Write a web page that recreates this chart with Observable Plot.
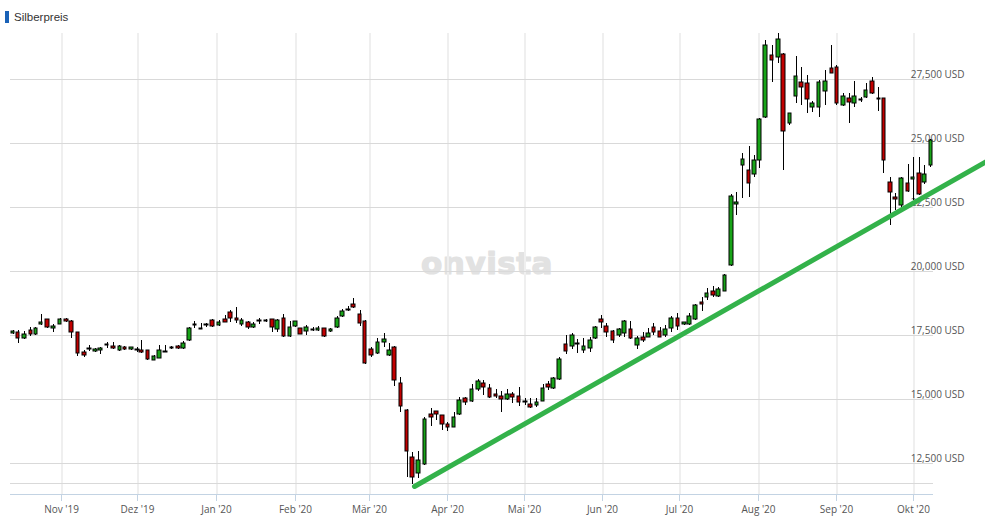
<!DOCTYPE html>
<html>
<head>
<meta charset="utf-8">
<script src="https://cdn.jsdelivr.net/npm/d3@7"></script>
<script src="https://cdn.jsdelivr.net/npm/@observablehq/plot@0.6"></script>
<style>
  html, body { margin: 0; padding: 0; background: #fff; }
  #wrap { position: relative; width: 985px; height: 518px; overflow: hidden; }
  #title { position: relative; height: 28px; }
  #title .bar { position: absolute; left: 5px; top: 11px; width: 4px; height: 12px; background: #1a62b7; }
  #title .txt { position: absolute; left: 14px; top: 12px; font: 11.5px/11px "Liberation Sans", Arial, sans-serif; color: #333; }
  svg { display: block; }
</style>
</head>
<body>
<div id="wrap">
  <div id="title"><span class="bar"></span><span class="txt">Silberpreis</span></div>
  <div id="chart"></div>
</div>
<script>
// ---- data ----
const dates = [
"2019-10-13","2019-10-15","2019-10-17T12:00Z","2019-10-20","2019-10-22","2019-10-24","2019-10-26T12:00Z","2019-10-29","2019-10-31T12:00Z",
"2019-11-03","2019-11-05","2019-11-07T12:00Z","2019-11-10","2019-11-12","2019-11-14T12:00Z","2019-11-16T12:00Z","2019-11-19","2019-11-21T12:00Z","2019-11-24","2019-11-26","2019-11-28T12:00Z",
"2019-12-01","2019-12-02T12:00Z","2019-12-05","2019-12-07T12:00Z","2019-12-09T12:00Z","2019-12-12","2019-12-14T12:00Z","2019-12-17","2019-12-19","2019-12-21T12:00Z","2019-12-23T12:00Z","2019-12-26","2019-12-28","2019-12-30T12:00Z",
"2020-01-02","2020-01-04T12:00Z","2020-01-06T12:00Z","2020-01-09","2020-01-11","2020-01-13T12:00Z","2020-01-15T12:00Z","2020-01-18","2020-01-20T12:00Z","2020-01-23","2020-01-25","2020-01-27T12:00Z","2020-01-30",
"2020-02-01","2020-02-03","2020-02-05T12:00Z","2020-02-08","2020-02-10","2020-02-12T12:00Z","2020-02-15","2020-02-17T12:00Z","2020-02-19T12:00Z","2020-02-22","2020-02-24","2020-02-26T12:00Z","2020-02-28T12:00Z",
"2020-03-02","2020-03-04T12:00Z","2020-03-07","2020-03-09","2020-03-11","2020-03-13T12:00Z","2020-03-16","2020-03-18","2020-03-20T12:00Z","2020-03-23","2020-03-25T12:00Z","2020-03-27T12:00Z","2020-03-30",
"2020-04-01","2020-04-03T12:00Z","2020-04-05T12:00Z","2020-04-08","2020-04-10T12:00Z","2020-04-13","2020-04-15","2020-04-17T12:00Z","2020-04-20","2020-04-22","2020-04-24T12:00Z","2020-04-26T12:00Z","2020-04-29",
"2020-05-01T12:00Z","2020-05-03T12:00Z","2020-05-06","2020-05-08T12:00Z","2020-05-10T12:00Z","2020-05-12T12:00Z","2020-05-15","2020-05-17T12:00Z","2020-05-20","2020-05-22","2020-05-24T12:00Z","2020-05-27","2020-05-29","2020-05-31T12:00Z",
"2020-06-02T12:00Z","2020-06-05","2020-06-07T12:00Z","2020-06-09T12:00Z","2020-06-12","2020-06-14T12:00Z","2020-06-17","2020-06-19","2020-06-21","2020-06-23T12:00Z","2020-06-25T12:00Z","2020-06-28","2020-06-30T12:00Z",
"2020-07-03","2020-07-05","2020-07-07T12:00Z","2020-07-10","2020-07-12","2020-07-14T12:00Z","2020-07-16T12:00Z","2020-07-19","2020-07-21T12:00Z","2020-07-23T12:00Z","2020-07-26","2020-07-28T12:00Z","2020-07-30T12:00Z",
"2020-08-01T12:00Z","2020-08-04","2020-08-06T12:00Z","2020-08-09","2020-08-11","2020-08-13T12:00Z","2020-08-16","2020-08-18","2020-08-20T12:00Z","2020-08-22T12:00Z","2020-08-25","2020-08-27T12:00Z","2020-08-30",
"2020-09-01","2020-09-03T12:00Z","2020-09-06","2020-09-08","2020-09-10T12:00Z","2020-09-12T12:00Z","2020-09-15","2020-09-17T12:00Z","2020-09-19T12:00Z","2020-09-22","2020-09-24","2020-09-26T12:00Z","2020-09-29",
"2020-10-01","2020-10-03T12:00Z","2020-10-05T12:00Z","2020-10-08"
];
const open = [
17578,17606,17371,17684,17527,17918,18113,17762,17930,
18125,18047,17606,16848,16953,16875,16902,17109,17070,16902,17031,16941,
16953,16914,16902,16535,16613,16848,16981,17070,16981,17293,17879,17785,17879,18074,
17879,18137,18387,18152,17918,17996,17801,18047,18035,18113,17723,18152,17473,
17840,17762,17668,17723,17684,17762,17645,17824,18254,18465,18711,18320,18035,
16941,16785,17227,16707,17020,15613,14570,12723,12098,12461,14414,14520,14363,
14023,13895,14402,15027,14910,15379,15613,15418,15184,15117,14988,15184,15105,
14922,14793,14754,14934,15582,15441,15770,17137,17059,17148,16902,16981,17371,18125,
17852,17656,17512,17566,17723,17098,17410,17434,17801,17645,17488,17785,18152,
17930,17918,18113,18777,18973,19207,19035,19238,20215,22606,24129,23945,23770,
24336,26004,28438,28348,28465,25793,26824,27371,27332,26395,26418,27043,27918,
27957,26473,26746,26551,26707,26785,27422,26746,26746,23488,22902,22578,23426,
23594,23816,23488,24141
];
const high = [
17695,17684,17656,17813,17824,18320,18125,17941,18152,
18176,18074,17606,16902,17109,17004,17031,17215,17215,17109,17082,17043,
17031,17305,16925,16719,17109,17109,17082,17109,17266,17801,18035,17957,17980,18113,
18086,18281,18477,18582,18152,18047,18020,18152,18125,18125,18113,18320,18059,
18059,17785,17891,17824,17852,17785,17762,18242,18504,18633,18945,18477,18086,
17020,17371,17590,17176,17070,15848,14621,12918,12969,14309,14660,14543,14363,
14113,14504,15066,15090,15574,15769,15742,15574,15379,15313,15379,15285,15469,
15051,15051,15051,15586,15699,15871,16652,17500,17566,17355,17383,17434,17852,18281,
17957,17695,17762,18086,18059,17461,17629,17762,17957,17824,17891,18242,18371,
18008,18371,18711,18996,19324,19414,19387,19883,23008,23086,24598,24883,24531,
25965,29023,28828,29280,28527,26184,28398,27957,27656,26641,27461,27852,28828,
28047,26965,26941,27434,26809,27332,27590,27176,26770,23684,23059,23684,24180,
24465,24465,24141,25145
];
const low = [
17539,17176,17344,17461,17500,17891,17785,17606,17918,
18020,17395,16691,16641,16875,16848,16770,17004,16953,16875,16925,16902,
16824,16785,16523,16512,16590,16836,16953,16953,16953,17277,17762,17762,17801,17824,
17852,18020,18020,17980,17863,17723,17762,17930,18020,17629,17629,17434,17434,
17824,17527,17500,17656,17645,17422,17617,17773,18215,18438,18570,17852,16367,
16652,16758,17043,16680,15520,14481,11965,11680,11902,12434,13957,14180,13789,
13750,13895,14375,14777,14883,15324,15156,15051,15027,14504,14961,14856,14738,
14766,14660,14699,14910,15348,15402,15742,16770,16941,16809,16809,16848,17332,17762,
17410,17199,17434,17434,17332,16941,17238,17410,17500,17410,17410,17629,17695,
17902,17891,18086,18450,18867,18985,18996,19230,20196,22207,22871,22879,23672,
24023,25977,27395,28137,23945,25703,26574,26484,26160,26199,26027,26473,27723,
26484,26445,25793,26395,26613,26746,26914,26262,23816,21797,22383,22512,23098,
22773,22969,23398,24078
];
const close = [
17656,17371,17527,17527,17762,17996,17824,17840,18125,
18047,17606,16797,16719,17004,16953,17004,17148,16981,17059,16953,17020,
16920,16824,16551,16668,16902,16880,17043,16981,17176,17762,17930,17750,17930,17840,
18008,18020,18152,18098,18086,17801,17930,18085,18074,17801,18086,17449,17801,
18035,17551,17801,17684,17762,17449,17734,18152,18438,18504,18606,17980,16395,
16707,17215,17344,16902,15730,14715,12957,11941,12605,14207,14285,14402,14012,
13895,14309,14961,14871,15379,15703,15480,15090,15129,15012,15195,15090,14871,
14883,14676,14883,15418,15465,15809,16563,16887,17488,17199,17070,17305,17801,18020,
17629,17305,17723,18035,17383,17371,17293,17566,17629,17434,17723,18152,17863,
17996,18231,18672,18699,19129,19082,19289,19836,22922,22684,24363,23426,24336,
25938,28828,28242,29051,25469,26160,27605,27176,26707,26551,27371,27410,27723,
26551,26836,26590,26836,26670,27070,26941,26707,24336,23074,22801,23621,23137,
23684,23008,23789,25117
];
// trend line (support) end points
const trendDates = ["2020-03-19", "2020-10-30"];
const trendValues = [11600, 24300];
// axis ticks
const yTicks = [12500, 15000, 17500, 20000, 22500, 25000, 27500];
const yExtraRule = [11720];
const monthTicks = ["2019-11-01","2019-12-01","2020-01-01","2020-02-01","2020-03-01","2020-04-01","2020-05-01","2020-06-01","2020-07-01","2020-08-01","2020-09-01","2020-10-01"];
const monthLabels = ["Nov '19","Dez '19","Jan '20","Feb '20","Mär '20","Apr '20","Mai '20","Jun '20","Jul '20","Aug '20","Sep '20","Okt '20"];

// ---- build ----
const candles = dates.map((d, i) => ({date: new Date(d), open: open[i], high: high[i], low: low[i], close: close[i]}));
const trend = trendDates.map((d, i) => ({date: new Date(d), value: trendValues[i]}));
const monthDates = monthTicks.map(d => new Date(d));
const labelOf = new Map(monthDates.map((d, i) => [+d, monthLabels[i]]));
const DAY = 864e5;
const half = 0.7 * DAY;
const GREEN = "#18a418", RED = "#c20000";
const font = "'Open Sans', sans-serif";
const fmt = d3.format(",");

const chart = Plot.plot({
  width: 985,
  height: 490,
  marginLeft: 10,
  marginRight: 52,
  marginTop: 5,
  marginBottom: 24,
  style: {fontFamily: font, fontSize: "10px", background: "#fff", overflow: "hidden"},
  x: {type: "utc", domain: [new Date("2019-10-12"), new Date("2020-10-09")], round: true},
  y: {domain: [11289, 29297], round: true, axis: null},
  marks: [
    Plot.text(["onvista"], {frameAnchor: "middle", dx: 15, fontSize: 31, fontWeight: "bold", fontFamily: "'DejaVu Sans', sans-serif", fill: "#e2e2e2", lineAnchor: "middle", stroke: "#e2e2e2", strokeWidth: 1.2}),
    Plot.ruleX(monthDates, {stroke: "#efefef", strokeWidth: 2, dx: 0.5}),
    Plot.ruleY(yTicks, {stroke: "#d9d9d9"}),
    Plot.ruleY(yExtraRule, {stroke: "#d9d9d9"}),
    Plot.ruleY([11289], {stroke: "#c3d3e3"}),
    Plot.axisX({ticks: monthDates, tickFormat: d => labelOf.get(+d), tickSize: 7, tickPadding: 4, stroke: "#c3d3e3", fill: "#555", fontSize: 10, fontFamily: font}),
    Plot.text(yTicks, {y: d => d, text: d => fmt(d) + " USD", frameAnchor: "right", textAnchor: "end", dx: 31, dy: -2, lineAnchor: "bottom", fill: "#555", fontSize: 10, fontFamily: font}),
    Plot.ruleX(candles, {x: "date", y1: "low", y2: "high", stroke: "#000", strokeWidth: 1}),
    Plot.rect(candles, {
      x1: d => new Date(+d.date - half),
      x2: d => new Date(+d.date + half),
      y1: "open", y2: "close",
      fill: d => d.close >= d.open ? GREEN : RED,
      stroke: "#000", strokeWidth: 1
    }),
    Plot.line(trend, {x: "date", y: "value", stroke: "#33b24a", strokeWidth: 5})
  ]
});
chart.querySelectorAll("text").forEach(t => {
  if (t.textContent === "onvista") t.setAttribute("letter-spacing", "0.5");
});
document.getElementById("chart").appendChild(chart);
</script>
</body>
</html>
